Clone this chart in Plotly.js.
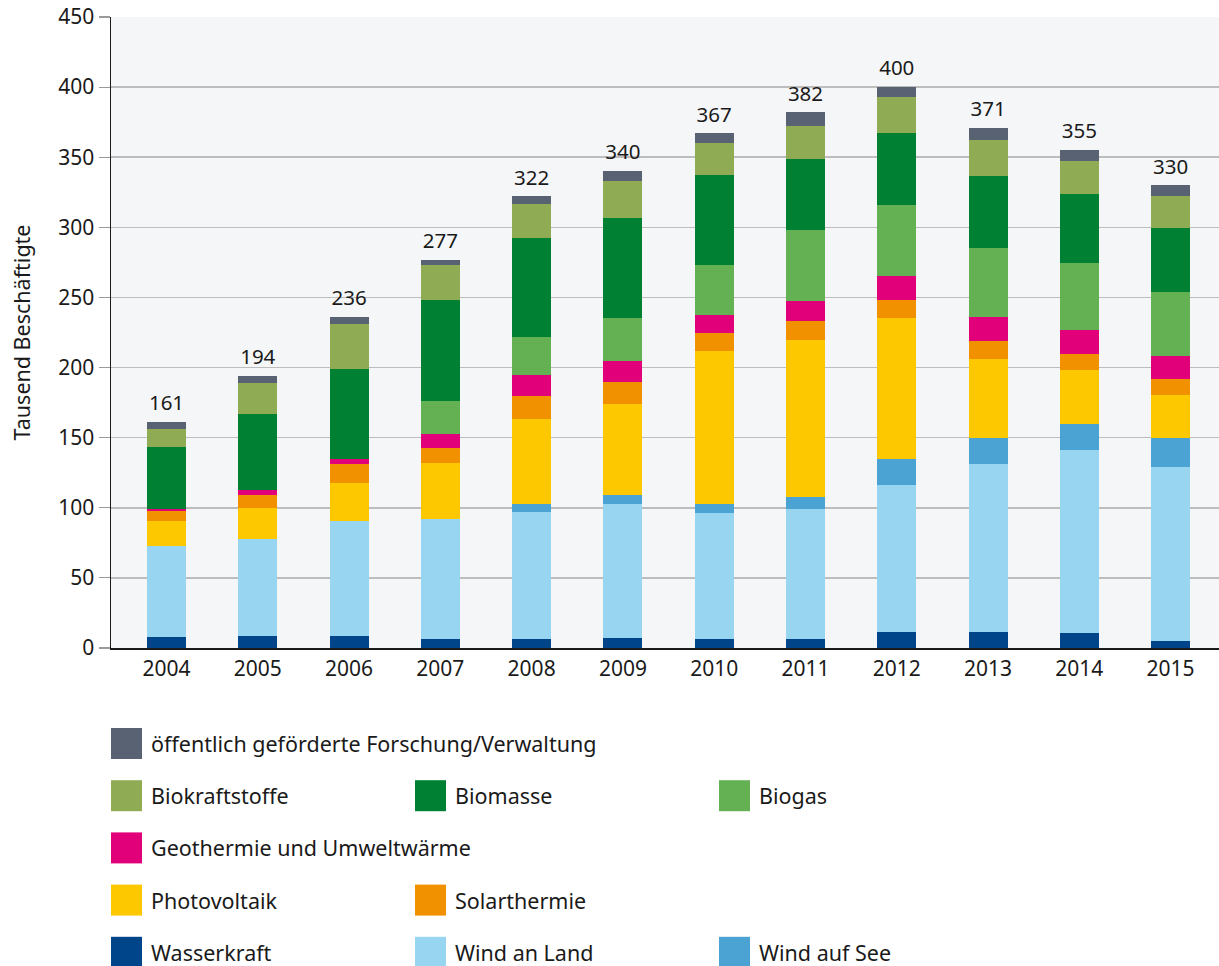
<!DOCTYPE html>
<html>
<head>
<meta charset="utf-8">
<script src="https://cdn.plot.ly/plotly-3.0.1.min.js"></script>
<style>
  html, body { margin: 0; padding: 0; background: #ffffff; }
  #chart { width: 1219px; height: 966px; }
</style>
</head>
<body>
<div id="chart"></div>
<script>
// ---- Data (Tausend Beschäftigte) ----
const years = ['2004','2005','2006','2007','2008','2009','2010','2011','2012','2013','2014','2015'];

const wasserkraft    = [8,   8.5, 8.5, 6.5, 6.5, 7,    6.5, 6.5, 11.5, 11.5, 10.5, 5];
const windAnLand     = [65,  69,  82,  85.5,90.5,95.5, 90,  92.5,105,  120,  131,  124];
const windAufSee     = [0,   0,   0,   0,   5.5, 6.5,  6.5, 8.5, 18,   18,   18.5, 20.5];
const photovoltaik   = [17.5,22.5,27,  40,  60.5,65,   109, 112, 100.5,56.5, 38.5, 31];
const solarthermie   = [7,   9,   14,  10.5,17,  15.5, 13,  13.5,13,   13,   11,   11.5];
const geothermie     = [1.5, 4,   3,   10,  15,  15,   12.5,14.5,17,   17,   17,   16.5];
const biogas         = [0,   0,   0,   23.5,26.5,31,   35.5,50.5,51,   49.5, 48,   45.5];
const biomasse       = [44.5,54,  64.5,72.5,71,  71,   64,  50.5,51.5, 51,   49,   45.5];
const biokraftstoffe = [13,  22,  32,  24.5,24,  26.5, 23.5,23.5,25.5, 26,   23.5, 23];
const forschung      = [4.5, 5,   5,   4,   5.5, 7,    6.5, 10,  7,    8.5,  8,    7.5];

const totals = [161, 194, 236, 277, 322, 340, 367, 382, 400, 371, 355, 330];

// Series in stacking order (bottom to top)
const seriesNames = ['Wasserkraft','Wind an Land','Wind auf See','Photovoltaik','Solarthermie',
  'Geothermie und Umweltwärme','Biogas','Biomasse','Biokraftstoffe','öffentlich geförderte Forschung/Verwaltung'];
const seriesValues = [wasserkraft, windAnLand, windAufSee, photovoltaik, solarthermie,
  geothermie, biogas, biomasse, biokraftstoffe, forschung];
const seriesColors = ['#004489','#97d5f1','#4ba3d4','#fdc800','#f29100',
  '#e2007a','#63b153','#008033','#8fac55','#596273'];

// Legend arrangement (rows of series names)
const legendRows = [
  ['öffentlich geförderte Forschung/Verwaltung'],
  ['Biokraftstoffe','Biomasse','Biogas'],
  ['Geothermie und Umweltwärme'],
  ['Photovoltaik','Solarthermie'],
  ['Wasserkraft','Wind an Land','Wind auf See']
];

// ---- Layout geometry ----
const W = 1219, H = 966;
const M = {l: 111, r: 0, t: 17, b: 318};
const plotW = W - M.l - M.r, plotH = H - M.t - M.b;
const px = x => (x - M.l) / plotW;
const py = y => (H - M.b - y) / plotH;

const FONT = 'Noto Sans, Open Sans, sans-serif';
const TXT = '#1a1a1a';

const traces = seriesNames.map((name, i) => ({
  type: 'bar',
  name: name,
  x: years,
  y: seriesValues[i],
  marker: {color: seriesColors[i], line: {width: 0}},
  hoverinfo: 'x+y+name'
}));

// Total labels above each bar (invisible marker gives the gap above the bar)
traces.push({
  type: 'scatter',
  mode: 'markers+text',
  x: years,
  y: totals,
  text: totals.map(String),
  textposition: 'top center',
  marker: {size: 9, opacity: 0},
  textfont: {family: FONT, size: 20.5, color: TXT},
  cliponaxis: false,
  hoverinfo: 'skip',
  showlegend: false
});

const annotations = [];
const shapes = [];
const colX = [111, 415, 719];
const rowY0 = 743.5, rowStep = 52.2, sw = 31;
legendRows.forEach((row, r) => {
  row.forEach((name, c) => {
    const idx = seriesNames.indexOf(name);
    const cx = colX[c], cy = rowY0 + r * rowStep;
    shapes.push({
      type: 'rect', xref: 'paper', yref: 'paper',
      x0: px(cx), x1: px(cx + sw), y0: py(cy + sw / 2), y1: py(cy - sw / 2),
      fillcolor: seriesColors[idx], line: {width: 0}
    });
    annotations.push({
      xref: 'paper', yref: 'paper', x: px(cx + 38), y: py(cy),
      xanchor: 'left', yanchor: 'middle', showarrow: false,
      text: name, font: {family: FONT, size: 21.5, color: TXT}
    });
  });
});

const layout = {
  width: W, height: H,
  margin: M,
  paper_bgcolor: '#ffffff',
  plot_bgcolor: '#f5f6f8',
  barmode: 'stack',
  bargap: 0.573,
  showlegend: false,
  font: {family: FONT, color: TXT, size: 20},
  xaxis: {
    type: 'category',
    range: [-0.608, 11.53],
    showline: true, linecolor: '#1a1a1a', linewidth: 1.5,
    ticks: '', showgrid: false,
    tickfont: {family: FONT, size: 21, color: TXT},
    ticklabelstandoff: 1
  },
  yaxis: {
    range: [0, 450],
    tickvals: [0,50,100,150,200,250,300,350,400,450],
    showline: true, linecolor: '#1a1a1a', linewidth: 1.5,
    showgrid: true, gridcolor: '#bdbdbd', gridwidth: 1.5,
    zeroline: false,
    ticks: 'outside', ticklen: 11, tickcolor: '#9a9a9a', tickwidth: 1.2,
    tickfont: {family: FONT, size: 21, color: TXT},
    title: {text: 'Tausend Beschäftigte', standoff: 21, font: {family: FONT, size: 21.5, color: TXT}}
  },
  annotations: annotations,
  shapes: shapes
};

Plotly.newPlot('chart', traces, layout, {displayModeBar: false, staticPlot: true});
</script>
</body>
</html>
